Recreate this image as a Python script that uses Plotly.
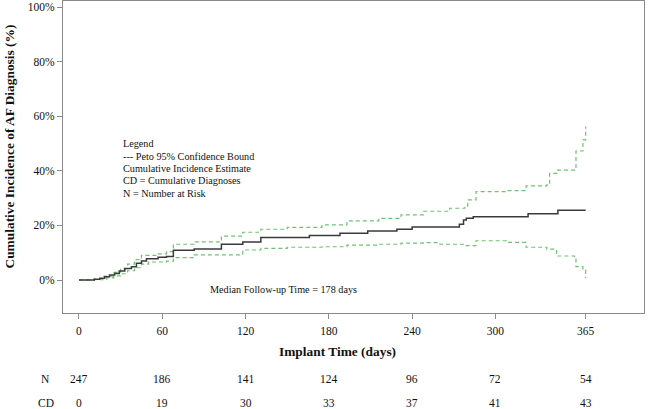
import plotly.graph_objects as go

# Cumulative incidence estimate (step function): days, percent
est_days = [0, 11, 15, 18.5, 22, 25.7, 29, 33, 37.8, 41.4, 45, 48.6, 57, 63, 68, 83, 102.6, 118, 131, 166, 188, 208, 229, 240, 274, 277, 279, 284, 323.5, 345, 365]
est_pct = [0, 0.3, 0.6, 1.2, 1.8, 2.4, 3.3, 4.2, 4.9, 6.1, 7.0, 7.8, 8.3, 8.6, 10.9, 11.4, 13.1, 13.9, 15.6, 16.3, 17.1, 18.0, 18.6, 19.4, 20.4, 22.0, 22.6, 23.2, 24.3, 25.6, 25.6]

# Peto 95% confidence bounds
upper_days = [0, 11, 18, 25, 30, 35, 40, 45, 57, 63, 68, 83, 102.6, 118, 131, 150, 175, 193, 216, 232, 248, 267, 278, 280, 286, 308, 322, 337, 339, 345, 357, 358, 363, 365]
upper_pct = [0, 0.4, 1.4, 2.8, 4.2, 5.8, 7.5, 9.0, 9.6, 10.4, 13.1, 14.0, 16.1, 17.5, 18.6, 19.3, 20.2, 21.7, 22.6, 23.9, 25.2, 26.3, 26.6, 29.4, 32.4, 32.8, 34.5, 34.9, 39.1, 40.3, 40.3, 47.3, 51.4, 56.3]
lower_days = [0, 11, 20, 25, 30, 35, 40, 45, 50, 63, 68, 83, 102.6, 118, 131, 150, 175, 193, 216, 232, 248, 260, 278, 286, 308, 322, 337, 344, 357, 358, 363, 365]
lower_pct = [0, 0.1, 0.8, 1.5, 2.3, 3.4, 4.5, 5.8, 6.6, 6.9, 8.2, 9.2, 9.2, 11.0, 11.6, 12.0, 12.2, 12.8, 13.1, 13.5, 13.7, 13.1, 12.6, 14.4, 13.8, 12.0, 11.3, 8.8, 8.6, 4.9, 3.7, 0.6]

tick_days = [0, 60, 120, 180, 240, 300, 365]
pct_ticks = [0, 20, 40, 60, 80, 100]
n_at_risk = [247, 186, 141, 124, 96, 72, 54]
cum_diag = [0, 19, 30, 33, 37, 41, 43]

legend_lines = ["Legend", "--- Peto 95% Confidence Bound", "Cumulative Incidence Estimate",
                "CD = Cumulative Diagnoses", "N = Number at Risk"]

FONT = "Liberation Serif"
GREEN = "#72c172"
INK = "#111111"
TICK_SIZE = 11.5
NOTE_SIZE = 10.2
TITLE_SIZE = 13.4

fig = go.Figure()
fig.add_trace(go.Scatter(x=upper_days, y=upper_pct, mode="lines", line_shape="hv",
                         line=dict(color=GREEN, width=1.2, dash="4px,3px"), showlegend=False))
fig.add_trace(go.Scatter(x=lower_days, y=lower_pct, mode="lines", line_shape="hv",
                         line=dict(color=GREEN, width=1.2, dash="4px,3px"), showlegend=False))
fig.add_trace(go.Scatter(x=est_days, y=est_pct, mode="lines", line_shape="hv",
                         line=dict(color="#3a3a3a", width=1.5), showlegend=False))

W, H = 649, 409
L, R, T, B = 63, 5, 1, 96
ph = H - T - B
pw = W - L - R

def py(pix):
    return (H - B - pix) / ph

def px(pix):
    return (pix - L) / pw

annotations = []
for i, line in enumerate(legend_lines):
    annotations.append(dict(x=px(120.5), y=py(143.5 + 12.5 * i), xref="paper", yref="paper",
                            text=line, showarrow=False, xanchor="left", yanchor="middle",
                            font=dict(family=FONT, size=NOTE_SIZE, color=INK)))
annotations.append(dict(x=px(207.5), y=py(289.5), xref="paper", yref="paper",
                        text="Median Follow-up Time = 178 days", showarrow=False, xanchor="left",
                        yanchor="middle", font=dict(family=FONT, size=NOTE_SIZE, color=INK)))
annotations.append(dict(x=px(337), y=py(351), xref="paper", yref="paper", text="<b>Implant Time (days)</b>",
                        showarrow=False, xanchor="center", yanchor="middle",
                        font=dict(family=FONT, size=TITLE_SIZE, color=INK)))
annotations.append(dict(x=px(9), y=py(146.5), xref="paper", yref="paper",
                        text="<b>Cumulative Incidence of AF Diagnosis (%)</b>", textangle=-90,
                        showarrow=False, xanchor="center", yanchor="middle",
                        font=dict(family=FONT, size=TITLE_SIZE, color=INK)))
annotations.append(dict(x=px(45.7), y=py(379), xref="paper", yref="paper", text="N",
                        showarrow=False, xanchor="center", yanchor="middle",
                        font=dict(family=FONT, size=TICK_SIZE, color=INK)))
annotations.append(dict(x=px(45.7), y=py(402.5), xref="paper", yref="paper", text="CD",
                        showarrow=False, xanchor="center", yanchor="middle",
                        font=dict(family=FONT, size=TICK_SIZE, color=INK)))
for d, n, c in zip(tick_days, n_at_risk, cum_diag):
    annotations.append(dict(x=d, y=py(379), xref="x", yref="paper", text=str(n), showarrow=False,
                            xanchor="center", yanchor="middle", font=dict(family=FONT, size=TICK_SIZE, color=INK)))
    annotations.append(dict(x=d, y=py(402.5), xref="x", yref="paper", text=str(c), showarrow=False,
                            xanchor="center", yanchor="middle", font=dict(family=FONT, size=TICK_SIZE, color=INK)))

fig.update_layout(
    width=W, height=H,
    margin=dict(l=L, r=R, t=T, b=B, autoexpand=False),
    paper_bgcolor="white", plot_bgcolor="white",
    font=dict(family=FONT, size=TICK_SIZE, color=INK),
    annotations=annotations,
    xaxis=dict(range=[-11.5, 407], tickmode="array", tickvals=tick_days,
               ticktext=[str(t) for t in tick_days],
               showgrid=False, zeroline=False, showline=True, mirror=True, linecolor="#8a8a8a",
               linewidth=1.2, ticks="outside", ticklen=5, tickcolor="#8a8a8a",
               ticklabelstandoff=2, tickfont=dict(family=FONT, size=TICK_SIZE, color=INK)),
    yaxis=dict(range=[-12.1, 102.3], tickmode="array", tickvals=pct_ticks,
               ticktext=[f"{v}%" for v in pct_ticks],
               showgrid=False, zeroline=False, showline=True, mirror=True, linecolor="#8a8a8a",
               linewidth=1.2, ticks="outside", ticklen=5, tickcolor="#8a8a8a",
               tickfont=dict(family=FONT, size=TICK_SIZE, color=INK)),
)

fig.write_html("out.html", config={"displayModeBar": False},
               post_script="document.body.style.margin='0';document.body.style.padding='0';")
